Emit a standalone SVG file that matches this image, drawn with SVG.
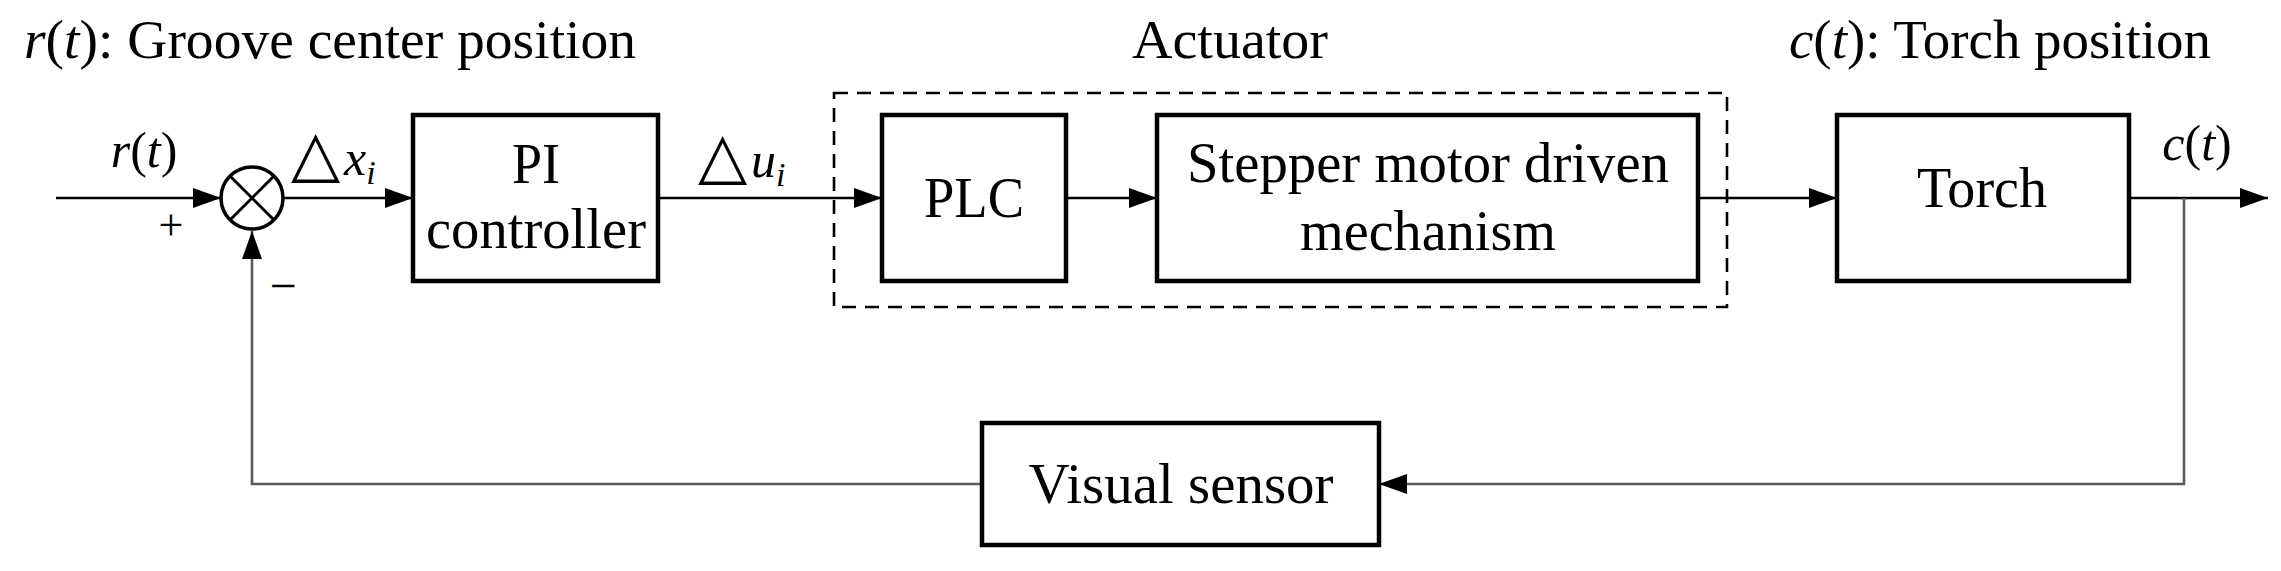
<svg xmlns="http://www.w3.org/2000/svg" width="2281" height="571" viewBox="0 0 2281 571">
<style>
  text { font-family: "Liberation Serif", "Times New Roman", serif; fill: #000; }
  .title { font-size: 55px; }
  .box { fill: #fff; stroke: #000; stroke-width: 4.5; }
  .boxtxt { font-size: 58px; text-anchor: middle; }
  .lbl { font-size: 50px; }
  .it { font-style: italic; }
  .tri { font-family: "DejaVu Sans", sans-serif; font-style: normal; }
  .wire { fill: none; stroke: #000; stroke-width: 2.6; }
  .fb { fill: none; stroke: #5a5a5a; stroke-width: 2.6; }
  .dash { fill: none; stroke: #000; stroke-width: 2.6; stroke-dasharray: 14 9; }
</style>
<defs>
  <marker id="arr" markerUnits="userSpaceOnUse" markerWidth="30" markerHeight="22" refX="28" refY="10" orient="auto">
    <path d="M0,0 L28,10 L0,20 Z" fill="#000"/>
  </marker>
</defs>
<rect width="2281" height="571" fill="#fff"/>

<g id="titles">
  <text class="title" x="24" y="58" textLength="612" lengthAdjust="spacingAndGlyphs"><tspan class="it">r</tspan>(<tspan class="it">t</tspan>): Groove center position</text>
  <text class="title" x="1230" y="58" text-anchor="middle" textLength="196" lengthAdjust="spacingAndGlyphs">Actuator</text>
  <text class="title" x="1789" y="58" textLength="422" lengthAdjust="spacingAndGlyphs"><tspan class="it">c</tspan>(<tspan class="it">t</tspan>): Torch position</text>
</g>

<g id="actuator">
  <rect class="dash" x="834" y="93" width="893" height="214"/>
</g>

<g id="connectors">
  <line class="wire" x1="56" y1="198" x2="221" y2="198" marker-end="url(#arr)"/>
  <line class="wire" x1="283" y1="198" x2="413" y2="198" marker-end="url(#arr)"/>
  <line class="wire" x1="658" y1="198" x2="882" y2="198" marker-end="url(#arr)"/>
  <line class="wire" x1="1066" y1="198" x2="1157" y2="198" marker-end="url(#arr)"/>
  <line class="wire" x1="1698" y1="198" x2="1837" y2="198" marker-end="url(#arr)"/>
  <line class="wire" x1="2129" y1="198" x2="2268" y2="198" marker-end="url(#arr)"/>
  <polyline class="fb" points="2184,198 2184,484 1379,484" marker-end="url(#arr)"/>
  <polyline class="fb" points="982,484 252,484 252,231" marker-end="url(#arr)"/>
</g>

<g id="sum">
  <circle cx="252" cy="198" r="31" fill="#fff" stroke="#000" stroke-width="3.5"/>
  <line x1="230" y1="176" x2="274" y2="220" stroke="#000" stroke-width="3"/>
  <line x1="274" y1="176" x2="230" y2="220" stroke="#000" stroke-width="3"/>
  <text x="171" y="240" font-size="44" text-anchor="middle">+</text>
  <text x="283" y="302" font-size="48" text-anchor="middle">−</text>
</g>

<g id="labels">
  <text class="lbl" x="144" y="167" text-anchor="middle"><tspan class="it">r</tspan>(<tspan class="it">t</tspan>)</text>
  <text class="lbl" x="291" y="175"><tspan class="tri" font-size="64">△</tspan><tspan class="it" x="344">x</tspan><tspan class="it" font-size="34" dy="9">i</tspan></text>
  <text class="lbl" x="698" y="177"><tspan class="tri" font-size="64">△</tspan><tspan class="it" x="751">u</tspan><tspan class="it" font-size="34" dy="9">i</tspan></text>
  <text class="lbl" x="2197" y="160" text-anchor="middle"><tspan class="it">c</tspan>(<tspan class="it">t</tspan>)</text>
</g>

<g id="pi">
  <rect class="box" x="413" y="115" width="245" height="166"/>
  <text class="boxtxt" x="536" y="183" textLength="48" lengthAdjust="spacingAndGlyphs">PI</text>
  <text class="boxtxt" x="536" y="248" textLength="220" lengthAdjust="spacingAndGlyphs">controller</text>
</g>

<g id="plc">
  <rect class="box" x="882" y="115" width="184" height="166"/>
  <text class="boxtxt" x="974" y="217" textLength="100" lengthAdjust="spacingAndGlyphs">PLC</text>
</g>

<g id="stepper">
  <rect class="box" x="1157" y="115" width="541" height="166"/>
  <text class="boxtxt" x="1428" y="182" textLength="482" lengthAdjust="spacingAndGlyphs">Stepper motor driven</text>
  <text class="boxtxt" x="1428" y="250" textLength="256" lengthAdjust="spacingAndGlyphs">mechanism</text>
</g>

<g id="torch">
  <rect class="box" x="1837" y="115" width="292" height="166"/>
  <text class="boxtxt" x="1982" y="207" textLength="130" lengthAdjust="spacingAndGlyphs">Torch</text>
</g>

<g id="sensor">
  <rect class="box" x="982" y="423" width="397" height="122"/>
  <text class="boxtxt" x="1181" y="503" textLength="305" lengthAdjust="spacingAndGlyphs">Visual sensor</text>
</g>
</svg>
